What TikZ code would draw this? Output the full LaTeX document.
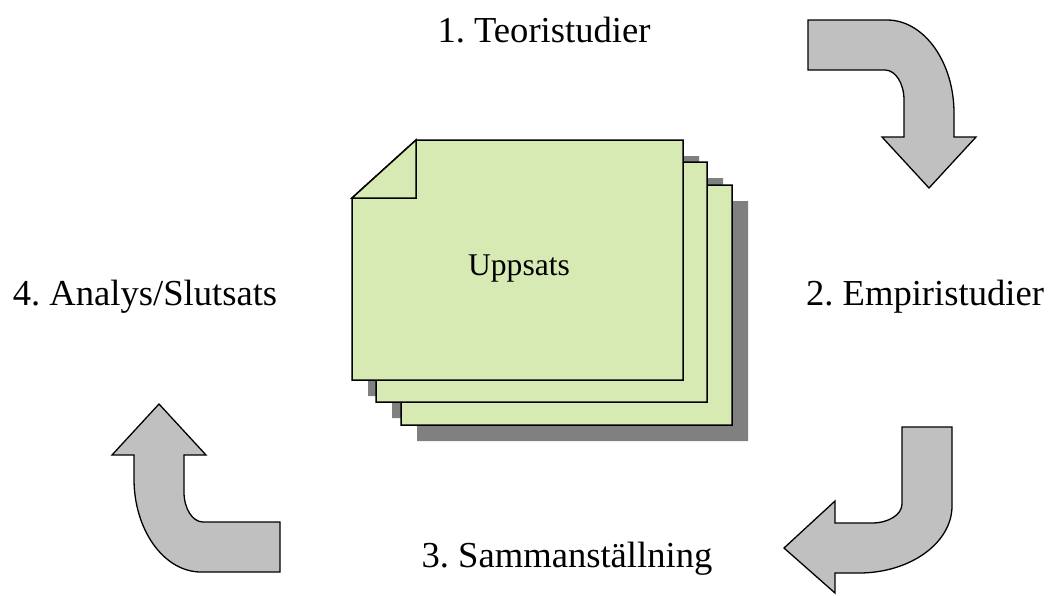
\documentclass[tikz,border=0pt]{standalone}
\usepackage{fontspec}
\setmainfont{Liberation Serif}
\frenchspacing
\definecolor{pagegreen}{RGB}{216,234,179}
\definecolor{arrowgray}{RGB}{192,192,192}
\definecolor{shadowgray}{RGB}{128,128,128}
\tikzset{
  bentarrow/.style={fill=arrowgray, draw=black, line width=1.3pt, line join=miter},
  sheet/.style={fill=pagegreen, draw=black, line width=1.5pt, line join=miter},
  sheetshadow/.style={fill=shadowgray, draw=none},
  steplabel/.style={anchor=base, inner sep=0pt, font=\fontsize{36.6}{40}\selectfont},
  doclabel/.style={anchor=base, inner sep=0pt, font=\fontsize{31.6}{36}\selectfont}
}
% outline of a sheet with a cut top-left corner: \sheetpath{x}{y} for its top-left point
\newcommand{\sheetpath}[2]{(#1+64,#2) -- (#1+331,#2) -- (#1+331,#2+240) -- (#1,#2+240) -- (#1,#2+58) -- cycle}
\begin{document}
\begin{tikzpicture}[x=1pt, y=-1pt]
\useasboundingbox (0,0) rectangle (1052,595);

% shadows of the three stacked sheets
\fill[sheetshadow] \sheetpath{417}{201};
\fill[sheetshadow] \sheetpath{392}{178};
\fill[sheetshadow] \sheetpath{368}{156};

% back sheets
\draw[sheet] \sheetpath{401}{185};
\draw[sheet] \sheetpath{376}{162};

% front sheet with folded corner
\draw[sheet] \sheetpath{352}{140};
\draw[sheet] (416,140) -- (416,198) -- (352,198) -- cycle;
\node[doclabel] (doc) at (519,275) {Uppsats};

% step labels
\node[steplabel] (s1) at (544,42) {1. Teoristudier};
\node[steplabel] (s2) at (925,305) {2. Empiristudier};
\node[steplabel] (s3) at (567,567) {3. Sammanställning};
\node[steplabel] (s4) at (145,305) {4. Analys/Slutsats};

% bent arrow, top right
\draw[bentarrow] (808,20) -- (887,20) .. controls (924,20) and (954,62) .. (954,113)
  -- (954,137) -- (976,137) -- (929,188) -- (882,137) -- (904,137) -- (904,100)
  .. controls (904,83.4) and (895.5,70) .. (885,70) -- (808,70) -- cycle;

% bent arrow, bottom right
\draw[bentarrow] (952,427) -- (952,506) .. controls (952,543) and (910,573) .. (859,573)
  -- (835,573) -- (835,593) -- (784,548) -- (835,501) -- (835,523) -- (872,523)
  .. controls (888.6,523) and (902,514.5) .. (902,504) -- (902,427) -- cycle;

% bent arrow, bottom left
\draw[bentarrow] (280,572) -- (201,572) .. controls (164,572) and (134,530) .. (134,479)
  -- (134,455) -- (112,455) -- (159,404) -- (206,455) -- (184,455) -- (184,492)
  .. controls (184,508.6) and (192.5,522) .. (203,522) -- (280,522) -- cycle;
\end{tikzpicture}
\end{document}
